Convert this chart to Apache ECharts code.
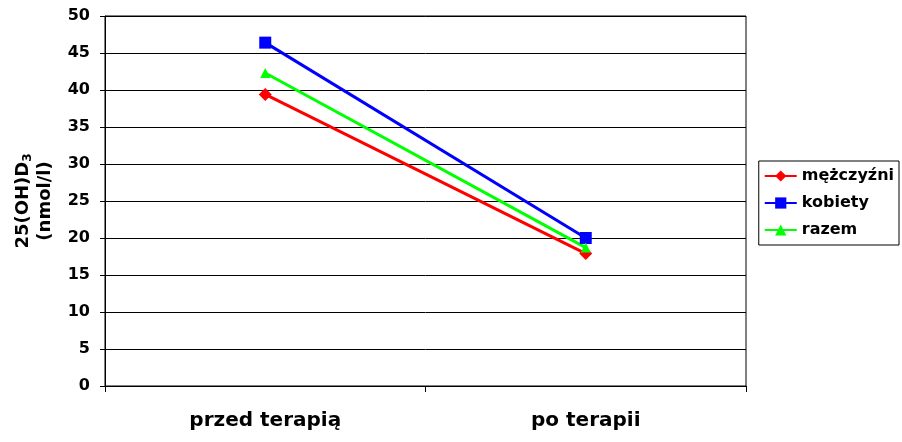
<!DOCTYPE html>
<html>
<head>
<meta charset="utf-8">
<script src="https://cdn.jsdelivr.net/npm/echarts@6/dist/echarts.min.js"></script>
<style>
  html, body { margin: 0; padding: 0; background: #fff; }
  #main { width: 902px; height: 442px; }
</style>
</head>
<body>
<div id="main"></div>
<script>
  // dane
  var categories = ['przed terapią', 'po terapii'];
  var mezczyzni = [39.4, 17.9];
  var kobiety = [46.4, 20.0];
  var razem = [42.3, 18.7];

  var chart = echarts.init(document.getElementById('main'));
  var font = '"DejaVu Sans", sans-serif';

  var option = {
    animation: false,
    textStyle: { fontFamily: font },
    grid: {
      left: 105, right: 156, top: 16, bottom: 56,
      show: true, borderColor: '#000', borderWidth: 1
    },
    legend: {
      orient: 'vertical',
      right: 3, top: 161,
      padding: [7, 5, 7, 5],
      itemGap: 11,
      itemWidth: 32, itemHeight: 14,
      borderColor: '#000', borderWidth: 1,
      textStyle: { fontFamily: font, fontSize: 16, fontWeight: 'bold', color: '#000' },
      data: ['mężczyźni', 'kobiety', 'razem']
    },
    xAxis: {
      type: 'category',
      data: categories,
      boundaryGap: true,
      axisLine: { lineStyle: { color: '#000', width: 1 } },
      axisTick: { show: true, length: 6, lineStyle: { color: '#000' } },
      axisLabel: { margin: 25, color: '#000', fontSize: 20, fontWeight: 'bold', fontFamily: font },
      splitLine: { show: false }
    },
    yAxis: {
      type: 'value',
      min: 0, max: 50, interval: 5,
      name: '{a|25(OH)D}{s|3}\n{a|(nmol/l)}',
      nameLocation: 'middle',
      nameRotate: 90,
      nameGap: 49,
      nameTextStyle: {
        rich: {
          a: { fontFamily: font, fontSize: 18, fontWeight: 'bold', color: '#000', lineHeight: 22 },
          s: { fontFamily: font, fontSize: 12, fontWeight: 'bold', color: '#000', verticalAlign: 'bottom', padding: [9, 0, 0, 0] }
        }
      },
      axisLine: { show: true, lineStyle: { color: '#000', width: 1 } },
      axisTick: { show: true, length: 5, lineStyle: { color: '#000' } },
      axisLabel: { margin: 15, color: '#000', fontSize: 16, fontWeight: 'bold', fontFamily: font },
      splitLine: { show: true, lineStyle: { color: '#000', width: 1 } }
    },
    series: [
      {
        name: 'mężczyźni', type: 'line', data: mezczyzni,
        symbol: 'diamond', symbolSize: 13,
        itemStyle: { color: '#ff0000' },
        lineStyle: { color: '#ff0000', width: 3 }
      },
      {
        name: 'kobiety', type: 'line', data: kobiety,
        symbol: 'rect', symbolSize: 12,
        itemStyle: { color: '#0000ff' },
        lineStyle: { color: '#0000ff', width: 3 }
      },
      {
        name: 'razem', type: 'line', data: razem,
        symbol: 'triangle', symbolSize: 10,
        itemStyle: { color: '#00ff00' },
        lineStyle: { color: '#00ff00', width: 3 }
      }
    ]
  };

  chart.setOption(option);
</script>
</body>
</html>
